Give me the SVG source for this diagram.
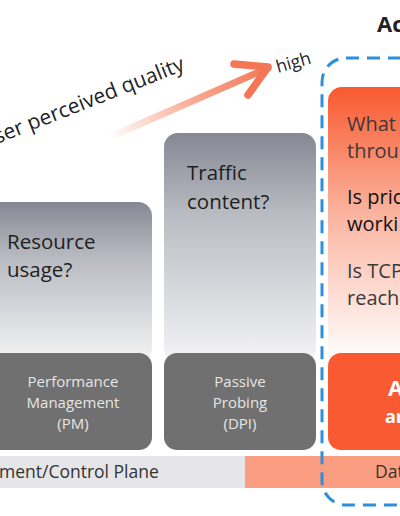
<svg xmlns="http://www.w3.org/2000/svg" width="400" height="516" viewBox="0 0 400 516">
<defs>
<linearGradient id="gGray" x1="0" y1="0" x2="0" y2="1">
<stop offset="0" stop-color="#858893"/>
<stop offset="0.35" stop-color="#b9bbc2"/>
<stop offset="1" stop-color="#f4f4f6"/>
</linearGradient>
<linearGradient id="gOrange" x1="0" y1="0" x2="0" y2="1">
<stop offset="0" stop-color="#f9592f"/>
<stop offset="0.45" stop-color="#fbb29d"/>
<stop offset="1" stop-color="#ffffff"/>
</linearGradient>
<linearGradient id="gArrow" gradientUnits="userSpaceOnUse" x1="110" y1="137" x2="268" y2="68">
<stop offset="0" stop-color="#f47b5a" stop-opacity="0"/>
<stop offset="0.6" stop-color="#f58a6b" stop-opacity="0.8"/>
<stop offset="1" stop-color="#f47654"/>
</linearGradient>
<style>
.q{font-family:"Open Sans","Noto Sans",sans-serif;font-size:20.5px;fill:#1e1e1e}
.lbl{font-family:"Open Sans","Noto Sans",sans-serif;font-size:15px;fill:#e6e6e6;text-anchor:middle}
.dark{fill:#707070}
.bar{font-family:"Open Sans","Noto Sans",sans-serif;font-size:17.5px;fill:#333}
.oq{font-family:"Open Sans","Noto Sans",sans-serif;font-size:20px;fill:#3a3a3a}
.ob{fill:#111}
</style>
</defs>
<rect width="400" height="516" fill="#ffffff"/>

<g id="title">
<text x="377" y="32" font-family="'Open Sans','Noto Sans',sans-serif" font-size="22" font-weight="bold" fill="#222">Ac</text>
</g>

<g id="connectors">
<path d="M110,137 L268,68" stroke="url(#gArrow)" stroke-width="7" stroke-linecap="round" fill="none"/>
<path d="M234,64 L268,67 L248,95" stroke="#f47654" stroke-width="7.5" stroke-linecap="round" stroke-linejoin="round" fill="none"/>
</g>

<g id="axis-label">
<text x="-3" y="144" transform="rotate(-21.5 -3 144)" font-family="'Open Sans','Noto Sans',sans-serif" font-size="21" fill="#222">ser perceived quality</text>
<text x="278" y="73" transform="rotate(-16 278 73)" font-family="'Open Sans','Noto Sans',sans-serif" font-size="17.5" fill="#222">high</text>
</g>

<g id="bar-control">
<rect x="0" y="456" width="245" height="32" fill="#e6e6e8"/>
<text class="bar" x="-1" y="478">ment/Control Plane</text>
</g>
<g id="bar-data">
<rect x="245" y="456" width="155" height="32" fill="#fb9d80"/>
<text class="bar" x="375" y="478">Dat</text>
</g>

<g id="pm">
<rect x="-20" y="202" width="172" height="160" rx="14" fill="url(#gGray)"/>
<text class="q" x="7" y="249">Resource</text>
<text class="q" x="7" y="277">usage?</text>
<rect class="dark" x="-20" y="353" width="172" height="97" rx="13"/>
<text class="lbl" x="73" y="387">Performance</text>
<text class="lbl" x="73" y="408">Management</text>
<text class="lbl" x="73" y="429">(PM)</text>
</g>

<g id="dpi">
<rect x="164" y="133" width="152" height="229" rx="14" fill="url(#gGray)"/>
<text class="q" x="187" y="180">Traffic</text>
<text class="q" x="187" y="209">content?</text>
<rect class="dark" x="164" y="353" width="152" height="97" rx="13"/>
<text class="lbl" x="240" y="387">Passive</text>
<text class="lbl" x="240" y="408">Probing</text>
<text class="lbl" x="240" y="429">(DPI)</text>
</g>

<g id="active">
<rect x="328" y="87" width="100" height="275" rx="14" fill="url(#gOrange)"/>
<text class="oq" x="347" y="131">What</text>
<text class="oq" x="347" y="158">throu</text>
<text class="oq ob" x="347" y="204">Is pric</text>
<text class="oq ob" x="347" y="231">worki</text>
<text class="oq" x="347" y="278">Is TCP</text>
<text class="oq" x="347" y="305">reach</text>
<rect x="328" y="353" width="100" height="97" rx="13" fill="#fa5a32"/>
<text x="388" y="396" font-family="'Open Sans','Noto Sans',sans-serif" font-size="22" font-weight="bold" fill="#fff">A</text>
<text x="385" y="423" font-family="'Open Sans','Noto Sans',sans-serif" font-size="18" font-weight="bold" fill="#fff">ar</text>
</g>

<g id="boundary">
<rect x="322" y="58" width="120" height="447" rx="24" fill="none" stroke="#2e90dd" stroke-width="3" stroke-dasharray="13,8"/>
</g>
</svg>
